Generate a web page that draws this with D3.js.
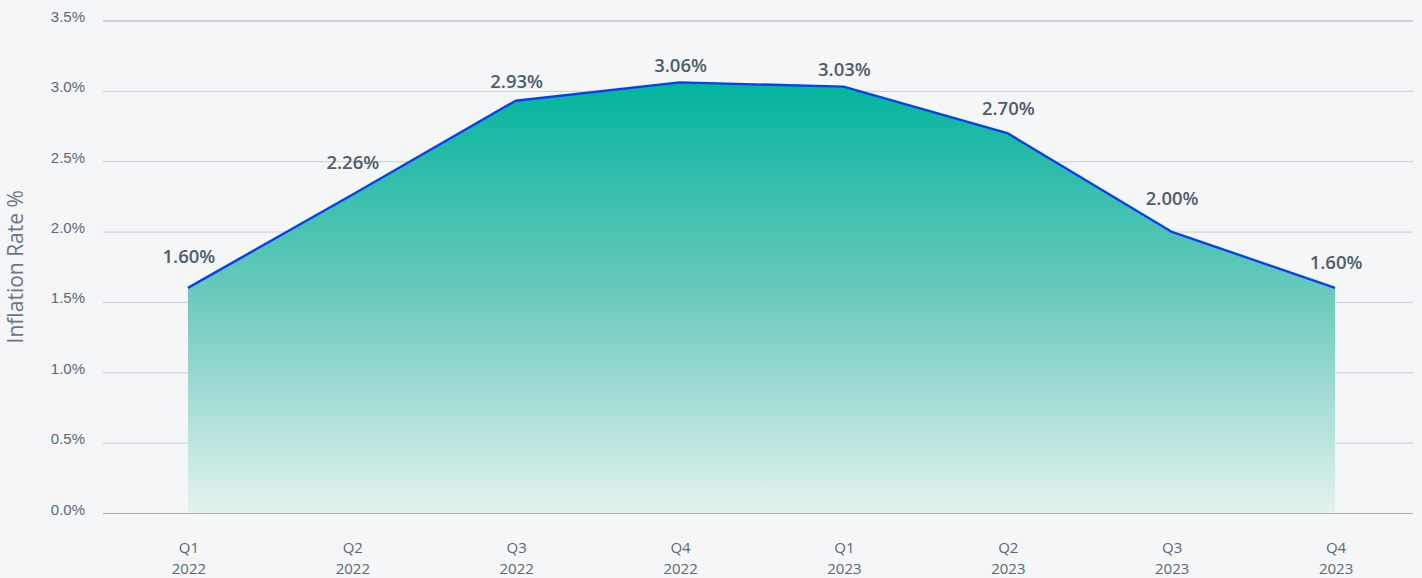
<!DOCTYPE html>
<html>
<head>
<meta charset="utf-8">
<script src="https://cdn.jsdelivr.net/npm/d3@7"></script>
<style>
  html, body { margin: 0; padding: 0; background: #f4f6f8; }
  svg { display: block; font-family: "Open Sans", Lato, sans-serif; }
</style>
</head>
<body>
<svg id="chart" width="1422" height="578"></svg>
<script>
// Quarterly inflation rate, 2022–2023
const quarters = ["Q1", "Q2", "Q3", "Q4", "Q1", "Q2", "Q3", "Q4"];
const years = ["2022", "2022", "2022", "2022", "2023", "2023", "2023", "2023"];
const inflation = [1.60, 2.26, 2.93, 3.06, 3.03, 2.70, 2.00, 1.60];
const yTicks = [0, 0.5, 1.0, 1.5, 2.0, 2.5, 3.0, 3.5];

const W = 1422, H = 578;
const plot = { left: 103, right: 1413, top: 20.5, bottom: 513 };
const svg = d3.select("#chart");

const data = inflation.map((v, i) => ({ i, q: quarters[i], y: years[i], v }));

const x = d3.scalePoint()
  .domain(d3.range(data.length))
  .range([plot.left + 3, plot.right + 4])
  .padding(0.5);

const y = d3.scaleLinear()
  .domain([0, 3.5])
  .range([plot.bottom, plot.top]);

// gradient fill under the line
const defs = svg.append("defs");
const grad = defs.append("linearGradient")
  .attr("id", "areaFill")
  .attr("gradientUnits", "userSpaceOnUse")
  .attr("x1", 0).attr("x2", 0)
  .attr("y1", y(d3.max(inflation))).attr("y2", y(0));
grad.append("stop").attr("offset", "0%").attr("stop-color", "#02b49d");
grad.append("stop").attr("offset", "50%").attr("stop-color", "#6ccabd");
grad.append("stop").attr("offset", "100%").attr("stop-color", "#e3f3ef");

// horizontal gridlines with y labels
const yAxis = d3.axisLeft(y)
  .tickValues(yTicks)
  .tickSize(-(plot.right - plot.left))
  .tickPadding(18)
  .tickFormat(d => d.toFixed(1) + "%");

const gy = svg.append("g")
  .attr("transform", `translate(${plot.left},0)`)
  .call(yAxis);
gy.select(".domain").remove();
gy.selectAll(".tick line")
  .attr("stroke", d => (d === 0 || d === 3.5) ? "#a6afb8" : "#c9ced4")
  .attr("stroke-width", 1);
gy.selectAll(".tick text")
  .attr("fill", "#5b6876")
  .attr("font-size", 15)
  .attr("dy", "0.07em");

// area + line
const area = d3.area()
  .x(d => x(d.i))
  .y0(y(0))
  .y1(d => y(d.v));
const line = d3.line()
  .x(d => x(d.i))
  .y(d => y(d.v));

svg.append("path")
  .datum(data)
  .attr("d", area)
  .attr("fill", "url(#areaFill)");

svg.append("path")
  .datum(data)
  .attr("d", line)
  .attr("fill", "none")
  .attr("stroke", "#0a3ff0")
  .attr("stroke-width", 2.4)
  .attr("stroke-linejoin", "round");

// value labels: sit just above the line across the label's width
function lineYAt(px) {
  const xs = data.map(d => x(d.i));
  if (px <= xs[0]) return y(data[0].v);
  if (px >= xs[xs.length - 1]) return y(data[data.length - 1].v);
  for (let k = 0; k < xs.length - 1; k++) {
    if (px >= xs[k] && px <= xs[k + 1]) {
      const t = (px - xs[k]) / (xs[k + 1] - xs[k]);
      return y(data[k].v) + t * (y(data[k + 1].v) - y(data[k].v));
    }
  }
  return y(0);
}
const halfW = 27, gap = 10;
svg.append("g")
  .selectAll("text")
  .data(data)
  .join("text")
  .attr("x", d => x(d.i) + 1)
  .attr("y", d => {
    const cx = x(d.i);
    let m = Infinity;
    for (let px = cx - halfW; px <= cx + halfW; px += 1) m = Math.min(m, lineYAt(px));
    return m - gap;
  })
  .attr("text-anchor", "middle")
  .attr("font-size", 18.5)
  .attr("font-weight", 600)
  .attr("fill", "#4d5d6c")
  .text(d => d.v.toFixed(2) + "%");

// category labels (two lines)
const xl = svg.append("g").selectAll("text")
  .data(data)
  .join("text")
  .attr("text-anchor", "middle")
  .attr("font-size", 15)
  .attr("fill", "#5b6876");
xl.append("tspan")
  .attr("x", d => x(d.i) + 1)
  .attr("y", plot.bottom + 40)
  .text(d => d.q);
xl.append("tspan")
  .attr("x", d => x(d.i) + 1)
  .attr("y", plot.bottom + 61)
  .text(d => d.y);

// y-axis title
svg.append("text")
  .attr("transform", `translate(23,${(y(0) + y(3.5)) / 2}) rotate(-90)`)
  .attr("text-anchor", "middle")
  .attr("font-size", 21)
  .attr("fill", "#6b7784")
  .text("Inflation Rate %");
</script>
</body>
</html>
